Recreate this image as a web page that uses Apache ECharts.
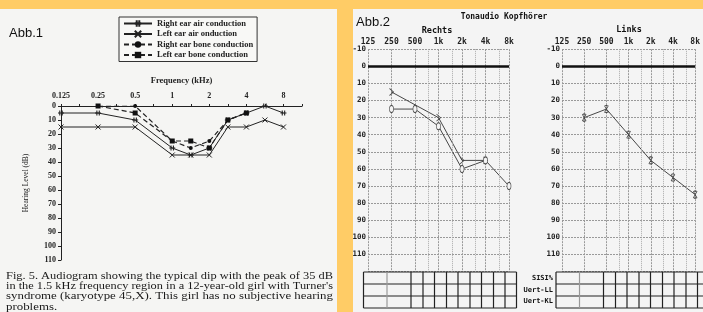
<!DOCTYPE html>
<html>
<head>
<meta charset="utf-8">
<script src="https://cdn.jsdelivr.net/npm/echarts@6/dist/echarts.min.js"></script>
<style>
html, body { margin: 0; padding: 0; background: #ffcc66; }
#main { width: 703px; height: 312px; }
</style>
</head>
<body>
<div id="main"></div>
<script>
// Abb.1 - Excel style audiogram, one category per half octave
var abb1Cats = ['0.125', '0.18', '0.25', '0.35', '0.5', '0.75', '1', '1.5', '2', '3', '4', '6', '8', '12'];
var abb1Freq = ['0.125', '0.25', '0.5', '1', '1.5', '2', '3', '4', '6', '8'];
var rightAir = [5, 5, 10, 30, 35, 30, 10, 5, 0, 5];
var leftAir = [15, 15, 15, 35, 35, 35, 15, 15, 10, 15];
var rightBone = [null, 0, 0, 25, 30, 25, 10, 5, null, null];
var leftBone = [null, 0, 5, 25, 25, 30, 10, 5, null, null];
var abb1Names = ['Right ear air conduction', 'Left ear air onduction', 'Right ear bone conduction', 'Left ear bone conduction'];

// Abb.2 - Tonaudio Kopfhoerer
var audioFreq = [125, 250, 500, 1000, 2000, 4000, 8000];
var audioLabels = ['125', '250', '500', '1k', '2k', '4k', '8k'];
var midFreq = [750, 1500, 3000, 6000];
var rechtsKL = [null, 15, null, 30, 55, 55, null];
var rechtsLL = [null, 25, 25, 35, 60, 55, 70];
var linksLL = [null, 30, 25, 40, 55, 65, 75];
var tableRows = ['SISI%', 'Uert-LL', 'Uert-KL'];

var caption = [
    'Fig. 5. Audiogram showing the typical dip with the peak of 35 dB',
    'in the 1.5 kHz frequency region in a 12-year-old girl with Turner\'s',
    'syndrome (karyotype 45,X). This girl has no subjective hearing',
    'problems.'
];

function abb1Pairs(vals) {
    var out = [];
    for (var i = 0; i < abb1Freq.length; i++) {
        if (vals[i] !== null) out.push([abb1Freq[i], vals[i]]);
    }
    return out;
}

function octave(f) {
    return Math.log(f / 1000) / Math.LN2;
}

function audioPairs(vals) {
    var out = [];
    for (var i = 0; i < audioFreq.length; i++) {
        if (vals[i] !== null) out.push([octave(audioFreq[i]), vals[i]]);
    }
    return out;
}

var serif = 'Liberation Serif';
var mono = 'DejaVu Sans Mono';
var ink = '#222';

var crossPath = 'path://M0,0L10,10M10,0L0,10';
var plusPath = 'path://M3,0L3,10M7,0L7,10M0,5L10,5';
var bracketPath = 'path://M0,0L8,6L0,12';
var xPath = 'path://M0,0L10,12M10,0L0,12M2,0L8,0M2,12L8,12';

var myChart = echarts.init(document.getElementById('main'), null, { renderer: 'canvas' });

// mid-frequency dotted verticals + the heavy 0 dB line
var midLines = midFreq.map(function (f) {
    return { xAxis: octave(f) };
});
midLines.push({ yAxis: 0, lineStyle: { type: 'solid', color: '#111', width: 2.5 } });

function audioXAxis(gridIndex) {
    return {
        gridIndex: gridIndex,
        type: 'value',
        position: 'top',
        min: -3,
        max: 3,
        interval: 1,
        axisLine: { show: false },
        axisTick: { show: false },
        axisLabel: {
            margin: 3,
            fontFamily: mono,
            fontWeight: 'bold',
            fontSize: 8,
            color: ink,
            formatter: function (v) {
                return audioLabels[Math.round(v) + 3];
            }
        },
        splitLine: { show: true, lineStyle: { color: '#999', type: [2, 1], width: 1 } }
    };
}

function audioYAxis(gridIndex) {
    return {
        gridIndex: gridIndex,
        type: 'value',
        inverse: true,
        min: -10,
        max: 120,
        interval: 10,
        axisLine: { show: false },
        axisTick: { show: false },
        axisLabel: {
            margin: 2,
            fontFamily: mono,
            fontWeight: 'bold',
            fontSize: 7.5,
            color: ink,
            formatter: function (v) {
                return v === 120 ? '' : v;
            }
        },
        splitLine: { show: true, lineStyle: { color: '#999', type: [2, 1], width: 1 } }
    };
}

var markLineOpt = {
    silent: true,
    symbol: ['none', 'none'],
    label: { show: false },
    lineStyle: { type: 'dotted', color: '#aaa', width: 1 },
    data: midLines
};

// table lines under the two audiograms
var tableCols = [0, 23.5, 47.5, 59.5, 71, 83, 94.5, 106.5, 118, 130, 141.5, 153];
var tableY = [272, 284, 296, 308];
function tableShapes(left) {
    var els = [];
    tableY.forEach(function (y) {
        els.push({ type: 'line', z: 3, shape: { x1: left, y1: y, x2: left + 153, y2: y }, style: { stroke: '#222', lineWidth: 1.2 } });
    });
    tableCols.forEach(function (c, i) {
        els.push({ type: 'line', z: 3, shape: { x1: left + c, y1: 272, x2: left + c, y2: 308 }, style: { stroke: i === 1 ? '#999' : '#222', lineWidth: 1.2 } });
    });
    return els;
}

// caption is justified in the scan: stretch each full line to the column width
var measureCtx = document.createElement('canvas').getContext('2d');
var captionFont = '11px "Liberation Serif"';
measureCtx.font = captionFont;
var captionWidth = 327;
var lastScale = 1;

var graphics = [
    { type: 'rect', z: 0, shape: { x: 0, y: 9, width: 337, height: 303 }, style: { fill: '#f5f5f3' } },
    { type: 'rect', z: 0, shape: { x: 353, y: 9, width: 350, height: 303 }, style: { fill: '#f4f4f4' } },
    { type: 'text', z: 1, style: { text: 'Abb.1', x: 9, y: 33, font: '13px "Liberation Sans"', fill: '#111', textVerticalAlign: 'middle' } },
    { type: 'text', z: 1, style: { text: 'Abb.2', x: 356, y: 22, font: '13px "Liberation Sans"', fill: '#111', textVerticalAlign: 'middle' } },
    { type: 'text', z: 1, style: { text: 'Tonaudio Kopfhörer', x: 504, y: 17, font: 'bold 8px "DejaVu Sans Mono"', fill: '#111', textAlign: 'center', textVerticalAlign: 'middle' } },
    { type: 'text', z: 1, style: { text: 'Rechts', x: 437, y: 31, font: 'bold 8.5px "DejaVu Sans Mono"', fill: '#111', textAlign: 'center', textVerticalAlign: 'middle' } },
    { type: 'text', z: 1, style: { text: 'Links', x: 629, y: 30, font: 'bold 8.5px "DejaVu Sans Mono"', fill: '#111', textAlign: 'center', textVerticalAlign: 'middle' } }
];
caption.forEach(function (line, i) {
    var s = lastScale;
    if (i < caption.length - 1) {
        s = captionWidth / measureCtx.measureText(line).width;
        lastScale = s;
    }
    graphics.push({
        type: 'text', z: 1, x: 6, y: 276 + i * 10.3, scaleX: s,
        style: { text: line, x: 0, y: 0, font: captionFont, fill: '#1a1a1a', textVerticalAlign: 'middle' }
    });
});
tableRows.forEach(function (t, i) {
    graphics.push({ type: 'text', z: 1, style: { text: t, x: 553, y: 278 + i * 11.7, font: 'bold 7px "DejaVu Sans Mono"', fill: '#111', textAlign: 'right', textVerticalAlign: 'middle' } });
});
graphics = graphics.concat(tableShapes(363.5), tableShapes(556));

var option = {
    backgroundColor: '#ffcc66',
    animation: false,
    graphic: graphics,
    legend: {
        data: abb1Names,
        orient: 'vertical',
        left: 119,
        top: 17,
        padding: [2, 4, 2, 4],
        itemGap: 1.5,
        itemWidth: 28,
        itemHeight: 8,
        borderColor: '#333',
        borderWidth: 1,
        backgroundColor: '#f8f8f6',
        textStyle: { fontFamily: serif, fontWeight: 'bold', fontSize: 8.5, color: ink, lineHeight: 9 }
    },
    grid: [
        { left: 61, top: 106, width: 241, height: 154, show: true, borderColor: '#222', borderWidth: 1, backgroundColor: 'transparent' },
        { left: 368, top: 49.2, width: 141, height: 222.4 },
        { left: 562, top: 49.2, width: 141, height: 222.4 }
    ],
    xAxis: [
        {
            gridIndex: 0,
            type: 'category',
            position: 'top',
            data: abb1Cats,
            boundaryGap: false,
            name: 'Frequency (kHz)',
            nameLocation: 'middle',
            nameGap: 21,
            nameTextStyle: { fontFamily: serif, fontWeight: 'bold', fontSize: 8.5, color: ink },
            axisLine: { lineStyle: { color: '#222', width: 1.2 } },
            axisTick: { interval: 0, length: 2, lineStyle: { color: '#222' } },
            axisLabel: { interval: 1, margin: 6, fontFamily: serif, fontWeight: 'bold', fontSize: 8, color: ink },
            splitLine: { show: false }
        },
        audioXAxis(1),
        audioXAxis(2)
    ],
    yAxis: [
        {
            gridIndex: 0,
            type: 'value',
            inverse: true,
            min: 0,
            max: 110,
            interval: 10,
            name: 'Hearing Level (dB)',
            nameLocation: 'middle',
            nameGap: 31,
            nameRotate: 90,
            nameTextStyle: { fontFamily: serif, fontSize: 7.5, color: ink },
            axisLine: { show: true, lineStyle: { color: '#222', width: 1 } },
            axisTick: { show: true, length: 3, lineStyle: { color: '#222' } },
            axisLabel: { margin: 5, fontFamily: serif, fontWeight: 'bold', fontSize: 8, color: ink },
            splitLine: { show: false }
        },
        audioYAxis(1),
        audioYAxis(2)
    ],
    series: [
        {
            name: abb1Names[0], type: 'line', xAxisIndex: 0, yAxisIndex: 0,
            data: abb1Pairs(rightAir),
            symbol: plusPath, symbolSize: [6, 5],
            itemStyle: { color: ink, borderColor: ink, borderWidth: 1 },
            lineStyle: { color: ink, width: 1 }
        },
        {
            name: abb1Names[1], type: 'line', xAxisIndex: 0, yAxisIndex: 0,
            data: abb1Pairs(leftAir),
            symbol: crossPath, symbolSize: 5,
            itemStyle: { color: ink, borderColor: ink, borderWidth: 1 },
            lineStyle: { color: ink, width: 1 }
        },
        {
            name: abb1Names[2], type: 'line', xAxisIndex: 0, yAxisIndex: 0,
            data: abb1Pairs(rightBone),
            symbol: 'circle', symbolSize: 4,
            itemStyle: { color: '#111' },
            lineStyle: { color: ink, width: 1.2, type: [5, 3] }
        },
        {
            name: abb1Names[3], type: 'line', xAxisIndex: 0, yAxisIndex: 0,
            data: abb1Pairs(leftBone),
            symbol: 'rect', symbolSize: 5,
            itemStyle: { color: '#111' },
            lineStyle: { color: ink, width: 1.2, type: [5, 3] }
        },
        {
            name: 'Rechts KL', type: 'line', xAxisIndex: 1, yAxisIndex: 1,
            data: audioPairs(rechtsKL),
            symbol: bracketPath, symbolSize: [4, 7],
            itemStyle: { color: 'none', borderColor: '#444', borderWidth: 0.8 },
            lineStyle: { color: '#333', width: 0.9 },
            markLine: markLineOpt
        },
        {
            name: 'Rechts LL', type: 'line', xAxisIndex: 1, yAxisIndex: 1,
            data: audioPairs(rechtsLL),
            symbol: 'circle', symbolSize: [4, 7],
            itemStyle: { color: '#f4f4f4', borderColor: '#444', borderWidth: 0.8 },
            lineStyle: { color: '#333', width: 0.9 }
        },
        {
            name: 'Links LL', type: 'line', xAxisIndex: 2, yAxisIndex: 2,
            data: audioPairs(linksLL),
            symbol: xPath, symbolSize: [4, 7],
            itemStyle: { color: 'none', borderColor: '#444', borderWidth: 0.8 },
            lineStyle: { color: '#333', width: 0.9 },
            markLine: markLineOpt
        }
    ]
};

myChart.setOption(option);
</script>
</body>
</html>
